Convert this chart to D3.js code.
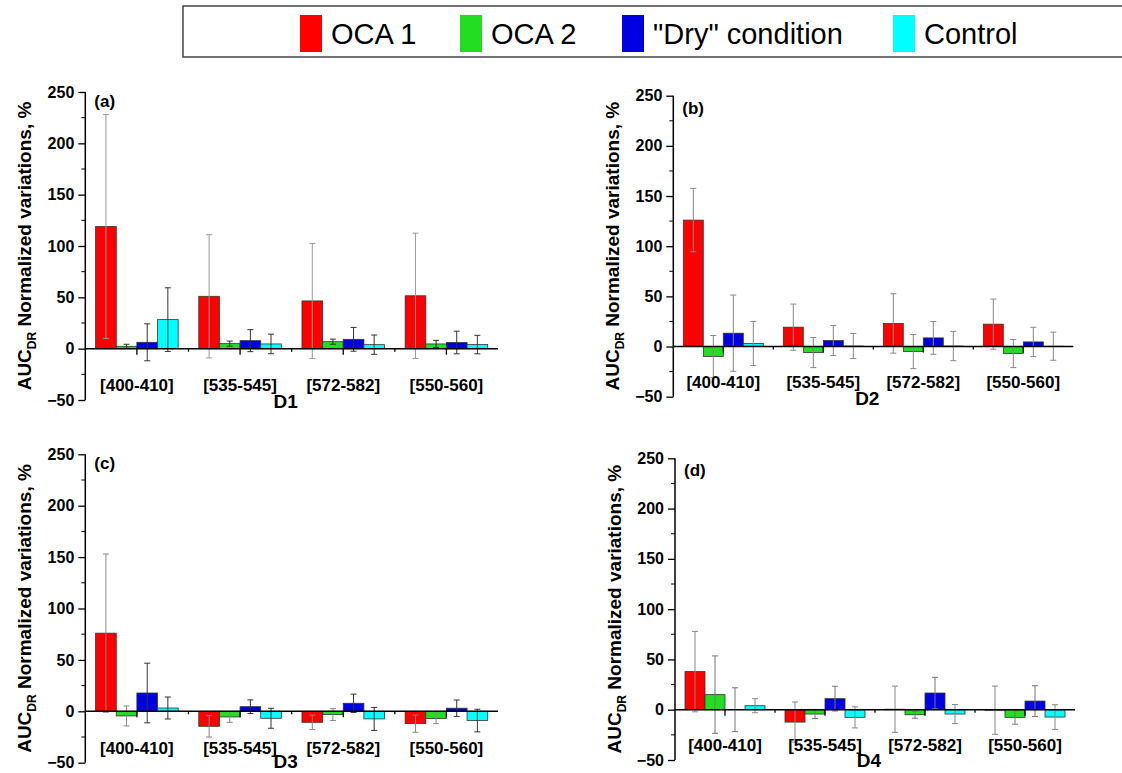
<!DOCTYPE html>
<html>
<head>
<meta charset="utf-8">
<script src="https://cdn.jsdelivr.net/npm/d3@7"></script>
<style>
  body { margin: 0; background: #fff; }
  svg { display: block; font-family: "Liberation Sans", Arial, sans-serif; }
  .t_tick { font-size: 16px; font-weight: bold; }
  .t_cat { font-size: 17px; font-weight: bold; }
  .t_dlab { font-size: 19px; font-weight: bold; }
  .t_panel { font-size: 17px; font-weight: bold; }
  .t_ytitle { font-size: 19px; font-weight: bold; }
  .t_legend { font-size: 29px; }
</style>
</head>
<body>
<svg width="1122" height="773"></svg>
<script>
/* ----------------------------------------------------------
data
---------------------------------------------------------- */

var groups = ["[400-410]", "[535-545]", "[572-582]", "[550-560]"];
var seriesNames = ["OCA 1", "OCA 2", "\"Dry\" condition", "Control"];
var seriesColors = ["#ff0000", "#22dd22", "#0000e0", "#00ffff"];
var yTicks = [-50, 0, 50, 100, 150, 200, 250];
var yMinorTicks = [-25, 25, 75, 125, 175, 225];

// rows: OCA 1, OCA 2, "Dry", Control ; cols: groups
var valuesD1 = [[119, 51, 46.5, 51.5], [2.3, 4.9, 6.8, 4.6], [6.2, 7.8, 9.1, 6], [28.3, 4.6, 3.9, 4]];
var errorsD1 = [[109, 60, 56, 61], [2, 2.5, 2.5, 3.5], [18, 10.7, 11.6, 11], [31, 9.5, 9.4, 9]];

var valuesD2 = [[126, 19.3, 23, 22.3], [-10, -6, -5, -7], [13.3, 6, 8.6, 4.6], [3, 0.5, 0.5, 0.3]];
var errorsD2 = [[31.6, 23, 29.6, 25], [21, 15, 17, 14], [38, 15, 16.3, 14.6], [22, 12.5, 14.6, 14]];

var valuesD3 = [[76, -14.6, -10.7, -12], [-4.5, -5.5, -3.2, -7], [17.8, 4.5, 7.8, 3], [3.2, -6.8, -7.4, -9]];
var errorsD3 = [[77, 10.4, 7, 8.4], [9.7, 5.3, 5.8, 5], [29, 6.6, 8.9, 8], [10.7, 9.7, 11.2, 11]];

var valuesD4 = [[37.9, -12.3, 0.5, -0.5], [15, -4.3, -5, -7.6], [0, 11, 16.6, 8.6], [4, -7.6, -4.3, -7.3]];
var errorsD4 = [[40, 20, 23, 24], [38.5, 4.5, 3.5, 6.8], [21.8, 12.3, 15.6, 15.3], [7, 10.5, 9.5, 12.3]];

/* ----------------------------------------------------------
layout
---------------------------------------------------------- */

var panels = [
  { tag: "(a)", dlab: "D1", values: valuesD1, errors: errorsD1, left: 85.3, right: 498, top: 92, bottom: 400, tagDy: 15, dlabDy: 8, errCol: ["#999", "#333", "#333", "#333"] },
  { tag: "(b)", dlab: "D2", values: valuesD2, errors: errorsD2, left: 673.3, right: 1073.3, top: 95.7, bottom: 396.7, tagDy: 18, dlabDy: 8, errCol: ["#888", "#888", "#888", "#888"] },
  { tag: "(c)", dlab: "D3", values: valuesD3, errors: errorsD3, left: 85.3, right: 498, top: 454.3, bottom: 762.7, tagDy: 15, dlabDy: 5, errCol: ["#888", "#888", "#333", "#333"] },
  { tag: "(d)", dlab: "D4", values: valuesD4, errors: errorsD4, left: 675, right: 1075, top: 458.3, bottom: 760, tagDy: 18, dlabDy: 7, errCol: ["#888", "#777", "#777", "#888"] }
];

var svg = d3.select("svg");

/* ----------------------------------------------------------
legend
---------------------------------------------------------- */

var gLeg = svg.append("g");
gLeg.append("rect")
  .attr("x", 183).attr("y", 6).attr("width", 960).attr("height", 51)
  .style("fill", "#fff").style("stroke", "#444").style("stroke-width", 1.5);

var legX = [300, 460, 622, 893];
var legs = gLeg.selectAll(".leg")
  .data(seriesNames).enter().append("g")
  .attr("class", "leg")
  .attr("transform", (d, i) => "translate(" + legX[i] + ",0)");

legs.append("rect")
  .attr("x", 0).attr("y", 15).attr("width", 22).attr("height", 37)
  .style("fill", (d, i) => seriesColors[i]);

legs.append("text")
  .attr("class", "t_legend")
  .attr("x", 31).attr("y", 44)
  .text(d => d);

/* ----------------------------------------------------------
panels
---------------------------------------------------------- */

panels.forEach(function(p) {
  var g = svg.append("g");

  var y = d3.scaleLinear().domain([-50, 250]).range([p.bottom, p.top]);
  var x0 = d3.scaleBand().domain(groups).range([p.left, p.right]).padding(0);
  var x1 = d3.scaleBand().domain(d3.range(seriesNames.length))
    .range([0, x0.bandwidth()]).paddingInner(0).paddingOuter(0.5);

  // flatten
  var rows = [];
  p.values.forEach(function(vals, si) {
    vals.forEach(function(v, gi) {
      rows.push({ s: si, g: groups[gi], v: v, e: p.errors[si][gi] });
    });
  });

  // bars
  g.selectAll(".bar").data(rows).enter().append("rect")
    .attr("class", "bar")
    .attr("x", d => x0(d.g) + x1(d.s))
    .attr("width", x1.bandwidth())
    .attr("y", d => y(Math.max(0, d.v)))
    .attr("height", d => Math.abs(y(d.v) - y(0)))
    .style("fill", d => seriesColors[d.s])
    .style("stroke", "#333")
    .style("stroke-width", 0.8);

  // error bars
  var eb = g.selectAll(".err").data(rows).enter().append("g")
    .attr("class", "err")
    .attr("transform", d => "translate(" + (x0(d.g) + x1(d.s) + x1.bandwidth() / 2) + ",0)")
    .style("stroke", d => p.errCol[d.s])
    .style("stroke-width", 1);
  eb.append("line")
    .attr("y1", d => y(d.v - d.e)).attr("y2", d => y(d.v + d.e));
  eb.append("line")
    .attr("x1", -3).attr("x2", 3)
    .attr("y1", d => y(d.v + d.e)).attr("y2", d => y(d.v + d.e));
  eb.append("line")
    .attr("x1", -3).attr("x2", 3)
    .attr("y1", d => y(d.v - d.e)).attr("y2", d => y(d.v - d.e));

  // y axis
  var yAxis = d3.axisLeft(y).tickValues(yTicks).tickSize(7).tickPadding(4).tickFormat(d3.format("d"));
  var gy = g.append("g").attr("transform", "translate(" + p.left + ",0)").call(yAxis);
  gy.select(".domain").attr("d", "M0," + p.top + "V" + p.bottom).style("stroke-width", 1.5);
  gy.selectAll(".tick line").style("stroke-width", 1.3);
  gy.selectAll("text").attr("class", "t_tick").style("fill", "#000");
  gy.attr("font-family", null).attr("font-size", null);

  g.append("g").selectAll("line").data(yMinorTicks).enter().append("line")
    .attr("x1", p.left - 4).attr("x2", p.left)
    .attr("y1", d => y(d)).attr("y2", d => y(d))
    .style("stroke", "#000").style("stroke-width", 1);

  // x axis at zero
  g.append("line")
    .attr("x1", p.left).attr("x2", p.right)
    .attr("y1", y(0)).attr("y2", y(0))
    .style("stroke", "#000").style("stroke-width", 1.5);

  g.append("g").selectAll("line").data(groups).enter().append("line")
    .attr("x1", d => x0(d) + x0.bandwidth() / 2).attr("x2", d => x0(d) + x0.bandwidth() / 2)
    .attr("y1", y(0)).attr("y2", y(0) + 6)
    .style("stroke", "#000").style("stroke-width", 1.3);

  g.append("g").selectAll("line").data(groups.slice(1)).enter().append("line")
    .attr("x1", d => x0(d)).attr("x2", d => x0(d))
    .attr("y1", y(0)).attr("y2", y(0) + 3)
    .style("stroke", "#000").style("stroke-width", 1.3);

  // category labels
  g.selectAll(".t_cat").data(groups).enter().append("text")
    .attr("class", "t_cat")
    .attr("x", d => x0(d) + x0.bandwidth() / 2)
    .attr("y", p.bottom - 9)
    .attr("text-anchor", "middle")
    .text(d => d);

  g.append("text")
    .attr("class", "t_dlab")
    .attr("x", (p.left + p.right) / 2 - 6)
    .attr("y", p.bottom + p.dlabDy)
    .attr("text-anchor", "middle")
    .text(p.dlab);

  g.append("text")
    .attr("class", "t_panel")
    .attr("x", p.left + 9)
    .attr("y", p.top + p.tagDy)
    .text(p.tag);

  // y title
  var yt = g.append("text")
    .attr("class", "t_ytitle")
    .attr("transform", "translate(" + (p.left - 54) + "," + ((p.top + p.bottom) / 2) + ") rotate(-90)")
    .attr("text-anchor", "middle");
  yt.append("tspan").text("AUC");
  yt.append("tspan").attr("dy", 5).style("font-size", "12px").text("DR");
  yt.append("tspan").attr("dy", -5).text(" Normalized variations, %");
});
</script>
</body>
</html>
